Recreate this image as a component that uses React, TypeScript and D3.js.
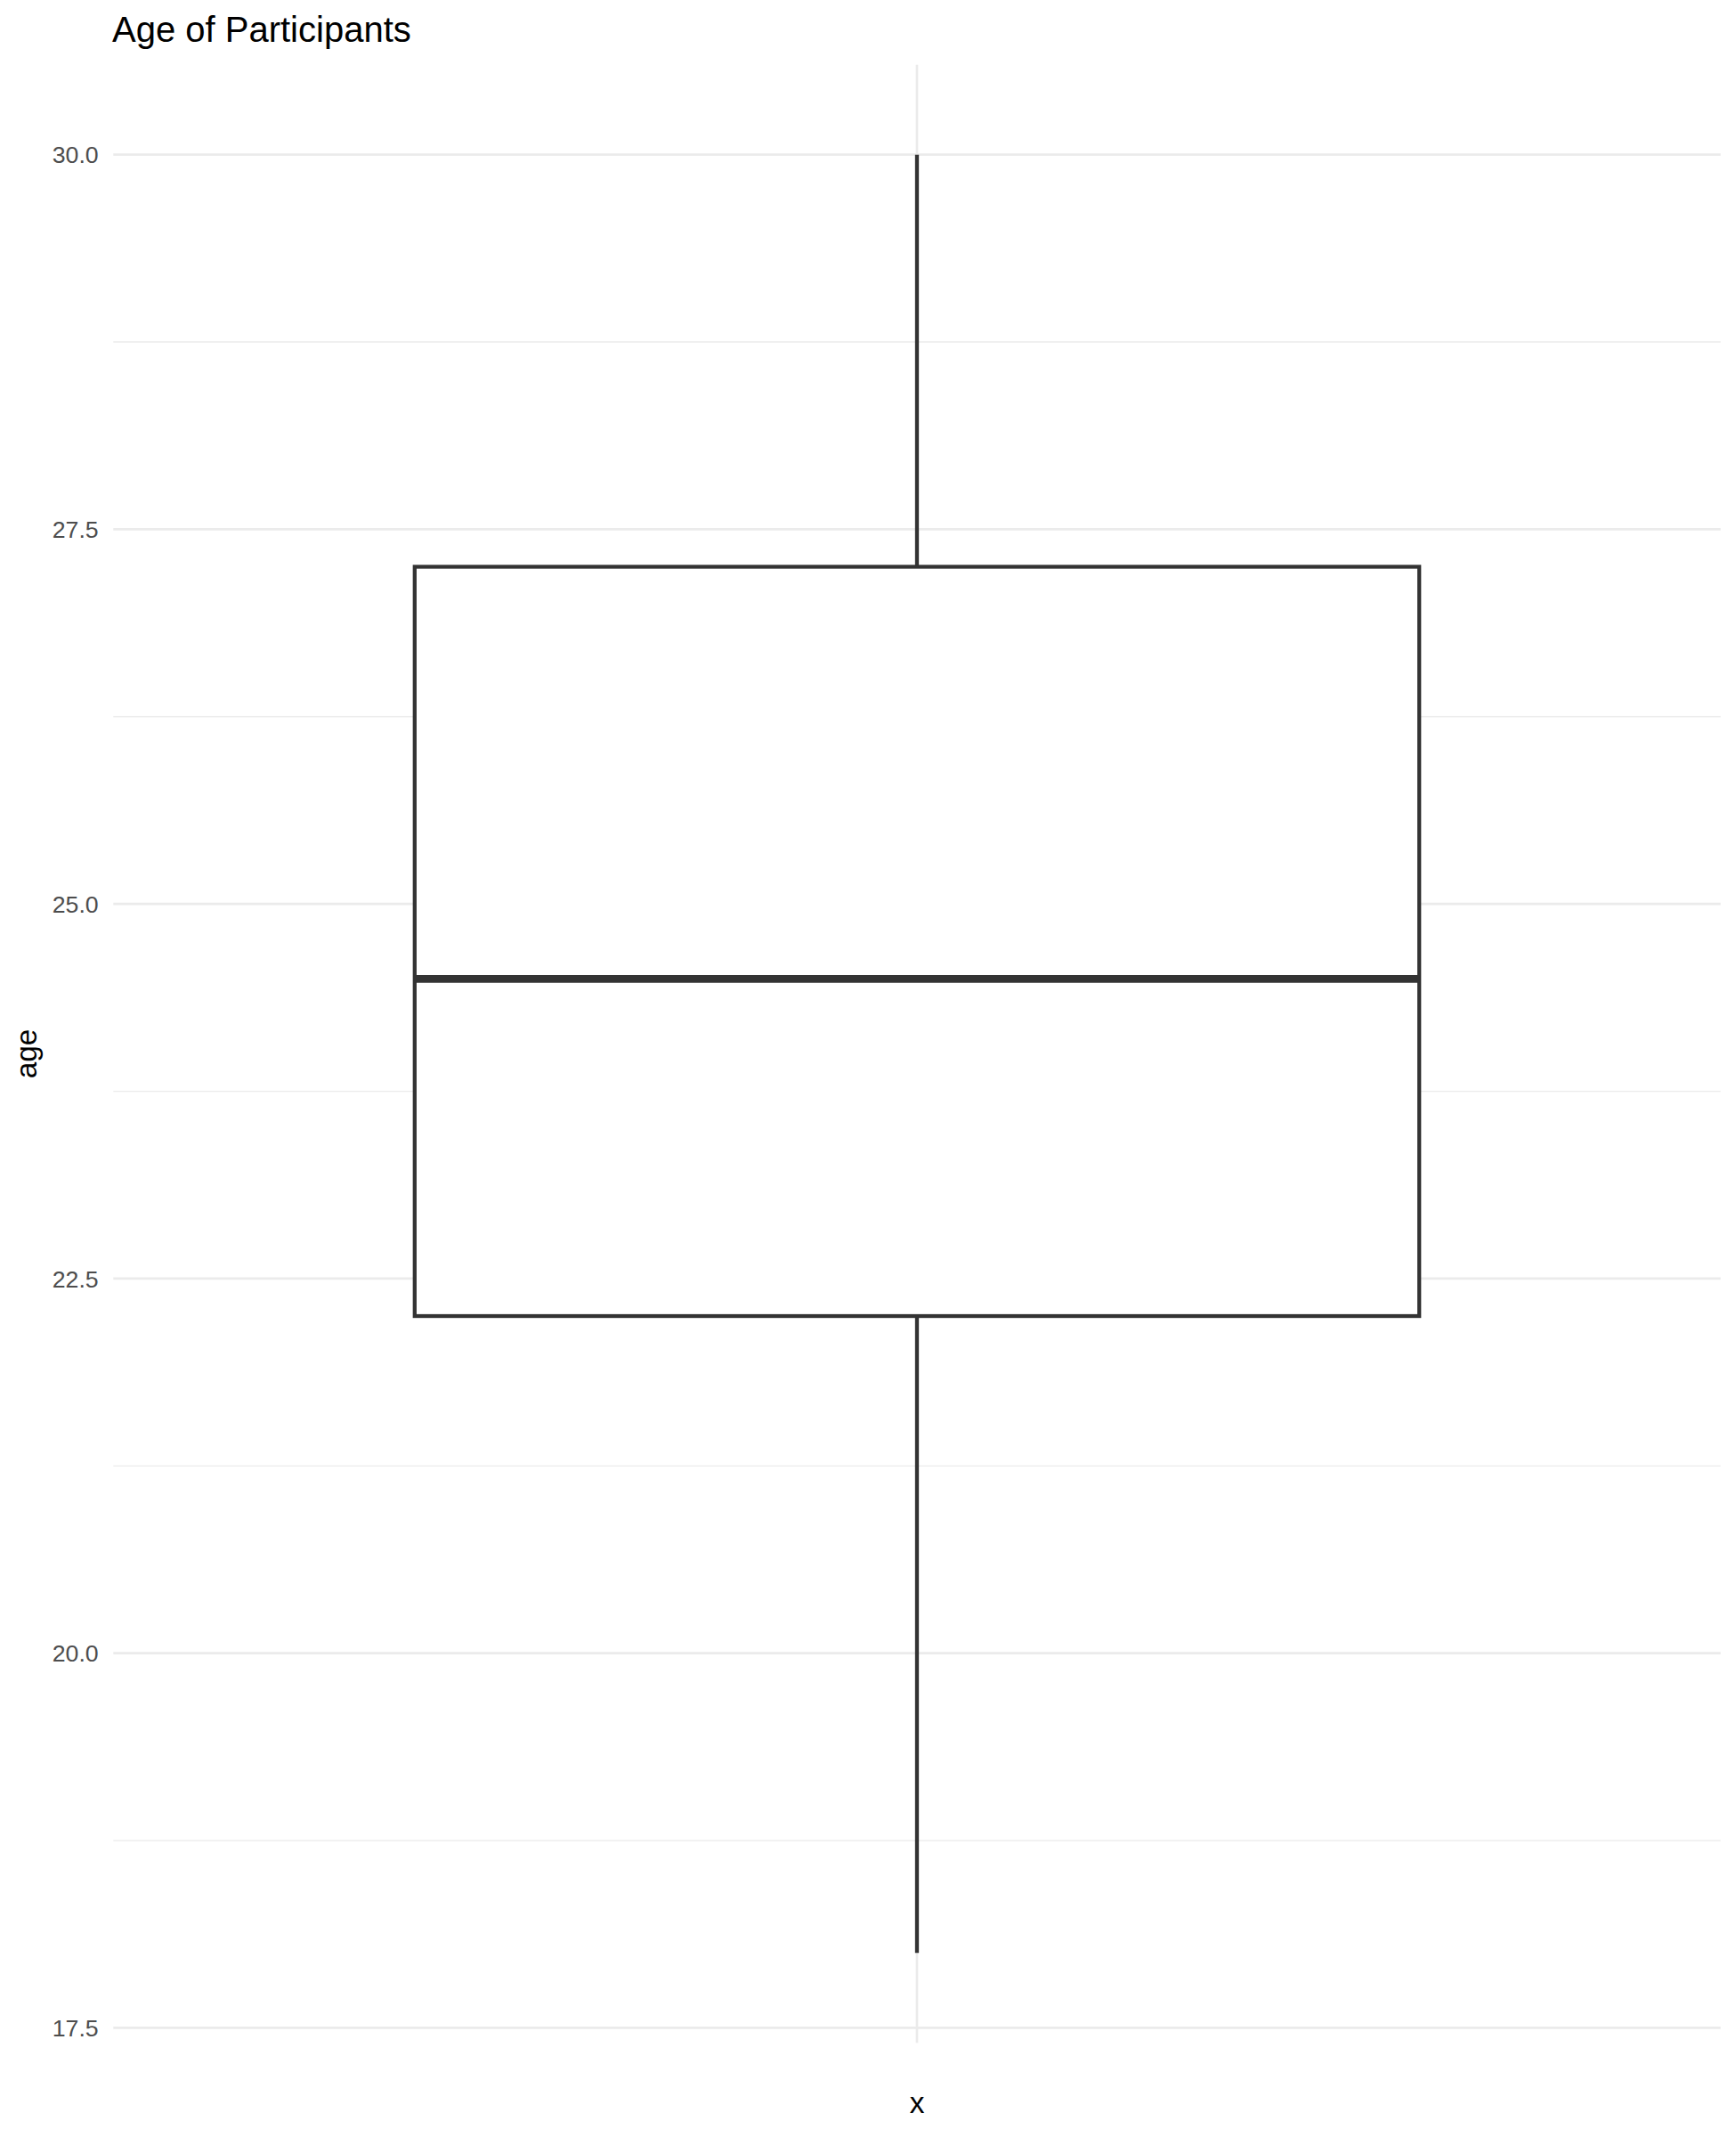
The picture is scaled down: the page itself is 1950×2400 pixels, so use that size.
import * as d3 from "d3";

// boxplot summary of participant ages (one group)
const groups = [""];
const lowerWhisker = [18];
const lowerHinge = [22.25];
const medians = [24.5];
const upperHinge = [27.25];
const upperWhisker = [30];

const yTicks = [17.5, 20, 22.5, 25, 27.5, 30];
const yMinorTicks = [18.75, 21.25, 23.75, 26.25, 28.75];

const W = 1950;
const H = 2400;
const panel = { left: 127.3, right: 1932.7, top: 72.7, bottom: 2294.3 };
const font = "'Liberation Sans', Arial, Helvetica, sans-serif";

export default function App() {
  const lo = d3.min(lowerWhisker) as number;
  const hi = d3.max(upperWhisker) as number;
  const pad = (hi - lo) * 0.05;

  const y = d3.scaleLinear().domain([lo - pad, hi + pad]).range([panel.bottom, panel.top]);
  // discrete axis: groups sit at 1..n, expanded by 0.6 on each side
  const x = d3.scaleLinear().domain([0.4, groups.length + 0.6]).range([panel.left, panel.right]);
  const boxHalf = (x(1.375) - x(1)) ;

  const fmt = d3.format(".1f");

  return (
    <svg width={W} height={H} style={{ position: "absolute", left: 0, top: 0, background: "#fff" }}>
      <rect width={W} height={H} fill="#fff" />

      {/* grid */}
      {yMinorTicks.map((t) => (
        <line key={"m" + t} x1={panel.left} x2={panel.right} y1={y(t)} y2={y(t)} stroke="#EBEBEB" strokeWidth={1.4} />
      ))}
      {yTicks.map((t) => (
        <line key={"M" + t} x1={panel.left} x2={panel.right} y1={y(t)} y2={y(t)} stroke="#EBEBEB" strokeWidth={2.7} />
      ))}
      {groups.map((g, i) => (
        <line key={"v" + i} x1={x(i + 1)} x2={x(i + 1)} y1={panel.top} y2={panel.bottom} stroke="#EBEBEB" strokeWidth={2.7} />
      ))}

      {/* boxes */}
      {groups.map((g, i) => {
        const cx = x(i + 1);
        return (
          <g key={"b" + i} stroke="#333333" fill="#fff">
            <line x1={cx} x2={cx} y1={y(upperWhisker[i])} y2={y(upperHinge[i])} strokeWidth={4.3} />
            <line x1={cx} x2={cx} y1={y(lowerHinge[i])} y2={y(lowerWhisker[i])} strokeWidth={4.3} />
            <rect
              x={cx - boxHalf}
              y={y(upperHinge[i])}
              width={boxHalf * 2}
              height={y(lowerHinge[i]) - y(upperHinge[i])}
              strokeWidth={4.3}
            />
            <line x1={cx - boxHalf} x2={cx + boxHalf} y1={y(medians[i])} y2={y(medians[i])} strokeWidth={8.6} />
          </g>
        );
      })}

      {/* y tick labels */}
      {yTicks.map((t) => (
        <text key={"t" + t} x={110.7} y={y(t)} dy="0.36em" textAnchor="end" fontFamily={font} fontSize={26.7} fill="#4D4D4D">
          {fmt(t)}
        </text>
      ))}

      {/* titles */}
      <text x={126} y={47} fontFamily={font} fontSize={40} fill="#000">
        Age of Participants
      </text>
      <text
        transform={`translate(41,${(panel.top + panel.bottom) / 2}) rotate(-90)`}
        textAnchor="middle"
        fontFamily={font}
        fontSize={33.4}
        fill="#000"
      >
        age
      </text>
      <text x={x(1)} y={2373} textAnchor="middle" fontFamily={font} fontSize={33.4} fill="#000">
        x
      </text>
    </svg>
  );
}
